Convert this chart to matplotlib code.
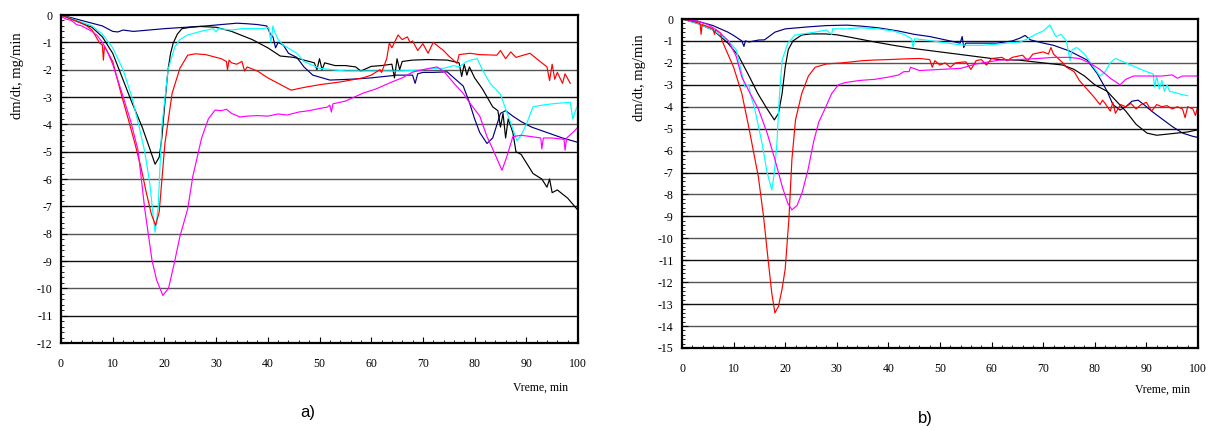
import numpy as np
import matplotlib.pyplot as plt
from matplotlib.ticker import MultipleLocator

# ---- panel a) : (time [min], dm/dt [mg/min]) ----
a_navy = [(0, 0), (2, -0.1), (4, -0.2), (6, -0.3), (8, -0.4), (9, -0.5), (10, -0.6), (11, -0.62),
          (12, -0.55), (14, -0.6), (17, -0.55), (20, -0.5), (24, -0.45), (28, -0.4), (31, -0.35),
          (34, -0.3), (36, -0.32), (38, -0.35), (39.8, -0.4), (40.5, -0.7), (41, -0.8), (41.5, -1.2),
          (42, -1.0), (43, -1.1), (44, -1.4), (45.6, -1.55), (47, -1.9), (48.7, -2.2), (52, -2.38),
          (56, -2.35), (60, -2.3), (65, -2.2), (68, -2.2), (68.5, -2.5), (69, -2.15), (70, -2.1),
          (72, -2.1), (74.7, -2.08), (76, -2.3), (77.8, -2.6), (79, -3.2), (80, -3.8), (81, -4.3),
          (82.4, -4.7), (83.5, -4.5), (84.5, -3.9), (85, -3.6), (86, -3.5), (87.4, -3.7), (89, -3.9),
          (91, -4.1), (94, -4.3), (97, -4.5), (99.8, -4.65)]

a_black = [(0, 0), (2, -0.15), (4, -0.3), (6, -0.45), (8, -0.8), (10, -1.4), (11.8, -2.27),
           (13.5, -3.1), (15.7, -4.1), (17, -4.8), (18.2, -5.46), (19, -5.2), (19.5, -4.5),
           (20.1, -3.2), (20.7, -2.0), (21.2, -1.4), (21.7, -1.03), (22.5, -0.7), (23.4, -0.5),
           (25, -0.45), (27, -0.42), (30, -0.45), (33, -0.6), (37, -0.9), (40, -1.2), (42.4, -1.5),
           (45, -1.55), (47, -1.65), (49, -1.75), (49.5, -2.0), (50, -1.6), (50.5, -2.0), (51, -1.75),
           (53, -1.85), (55, -1.85), (57, -1.9), (58, -2.05), (60, -1.88), (62, -1.85), (64, -1.8),
           (64.5, -2.3), (65, -1.6), (65.5, -2.0), (66, -1.7), (68, -1.65), (71, -1.63), (74.7, -1.65),
           (77, -1.75), (77.5, -2.25), (78, -1.8), (78.5, -2.2), (79, -1.9), (80, -2.3), (81.5, -2.7),
           (83.5, -3.36), (84.5, -3.5), (85, -4.1), (85.5, -3.6), (86, -4.5), (86.5, -3.8),
           (87.4, -4.3), (88, -5.0), (89, -5.1), (91.3, -5.8), (93, -6.0), (94, -6.3), (94.5, -6.0),
           (95, -6.5), (96, -6.4), (98, -6.7), (99.8, -7.1)]

a_cyan = [(0, 0), (3, -0.2), (6, -0.4), (8, -0.7), (10, -1.2), (12, -2.0), (13.7, -3.0), (15, -4.0),
          (16.2, -5.0), (17.2, -6.2), (17.8, -7.3), (18.2, -7.95), (18.8, -7.0), (19.5, -4.1),
          (20.7, -2.0), (22, -1.17), (23, -0.9), (24.5, -0.73), (27, -0.6), (29.5, -0.5), (30, -0.62),
          (30.5, -0.5), (33, -0.55), (35, -0.5), (37, -0.5), (39, -0.5), (40.2, -0.45), (40.6, -1.0),
          (41, -0.4), (41.3, -0.6), (42, -0.9), (43, -1.1), (45.6, -1.4), (47, -1.7), (50, -1.95),
          (55, -2.05), (60, -2.05), (65, -2.05), (68, -2.03), (70, -2.0), (72, -1.95), (74, -1.95),
          (76, -1.85), (77, -1.9), (78.5, -1.7), (79.3, -1.65), (80.5, -1.6), (81.5, -2.0), (83, -2.5),
          (85, -2.9), (86.5, -3.7), (88.2, -4.6), (89, -4.4), (90, -4.0), (91.3, -3.36), (93, -3.3),
          (95, -3.25), (97.9, -3.2), (98.5, -3.2), (99, -3.8), (99.5, -3.5), (100, -3.3)]

a_red = [(0, 0), (2, -0.15), (4, -0.3), (5, -0.4), (6, -0.55), (7.5, -1.03), (8, -1.1), (8.2, -1.65),
         (8.4, -1.15), (10, -1.7), (11.8, -3.0), (13, -3.8), (14.3, -4.7), (15.5, -5.6), (16.5, -6.5),
         (17.5, -7.3), (18.3, -7.7), (19, -7.2), (20.1, -4.7), (21.5, -2.86), (23, -1.95),
         (24.5, -1.47), (26, -1.42), (28, -1.45), (30, -1.55), (31, -1.6), (32, -1.7), (32.2, -2.0),
         (32.5, -1.65), (33, -1.75), (34, -1.8), (35, -1.7), (35.5, -2.05), (36, -1.9), (38, -2.05),
         (40, -2.3), (43, -2.6), (44.5, -2.75), (47, -2.65), (50, -2.55), (54, -2.45), (58.4, -2.3),
         (60, -2.2), (61.7, -2.0), (62, -2.1), (63, -1.6), (63.5, -1.03), (64, -1.2), (65.2, -0.73),
         (66, -0.9), (67, -0.8), (67.5, -1.0), (68, -0.95), (69, -1.3), (70, -1.05), (71, -1.4),
         (72, -1.0), (73.3, -1.2), (74, -1.3), (75, -1.5), (76.6, -1.77), (77, -1.45), (79.1, -1.4),
         (81, -1.45), (84.3, -1.47), (85, -1.3), (86, -1.6), (87, -1.35), (88, -1.55), (90.7, -1.4),
         (92, -1.6), (94, -1.9), (94.5, -2.4), (95, -1.8), (95.5, -2.35), (96, -2.1), (97, -2.5),
         (97.5, -2.15), (98.5, -2.5)]

a_magenta = [(0, -0.05), (1, -0.15), (2, -0.2), (3, -0.35), (4, -0.4), (5, -0.5), (6, -0.6),
             (7, -0.75), (8, -1.0), (9, -1.35), (10, -1.8), (11.8, -2.86), (13.5, -3.9), (14.9, -4.95),
             (16.2, -7.1), (17.6, -8.97), (18.5, -9.7), (19.7, -10.26), (20.8, -10.0), (22, -9.0),
             (23, -8.1), (24.5, -7.1), (25.5, -5.9), (27.2, -4.5), (28.5, -3.8), (29.8, -3.48),
             (31, -3.5), (32, -3.45), (33, -3.6), (34.6, -3.73), (36, -3.7), (38, -3.68), (40, -3.7),
             (42, -3.62), (43.7, -3.66), (46, -3.55), (48, -3.5), (50, -3.42), (51.5, -3.37),
             (52, -3.3), (52.3, -3.55), (52.6, -3.25), (55, -3.15), (58.4, -2.86), (61, -2.7),
             (64, -2.45), (66, -2.3), (68, -2.09), (70, -2.0), (72.7, -1.9), (74, -2.05), (76, -2.5),
             (77.8, -2.87), (79, -3.2), (81, -3.7), (82.4, -4.45), (83.5, -4.9), (85.3, -5.68),
             (86.2, -5.2), (87.4, -4.45), (89, -4.4), (91, -4.45), (92.8, -4.5), (93, -4.9),
             (93.3, -4.5), (95, -4.5), (97.3, -4.55), (97.5, -4.95), (97.8, -4.5), (99, -4.3),
             (100, -4.1)]

# ---- panel b) ----
b_navy = [(0, 0), (3, -0.1), (6, -0.3), (8.9, -0.6), (10, -0.75), (11.6, -1.0), (12, -1.25),
          (12.3, -1.0), (13, -1.05), (14.8, -0.96), (16, -0.95), (18, -0.6), (20, -0.45),
          (24.4, -0.36), (28, -0.3), (32, -0.28), (34.5, -0.32), (38, -0.4), (42, -0.55), (45, -0.7),
          (48, -0.8), (50, -0.9), (53.9, -1.1), (54.3, -0.8), (54.6, -1.3), (55, -1.1), (58, -1.1),
          (61, -1.1), (64, -1.0), (65.5, -0.87), (66.5, -0.75), (67.5, -0.95), (70, -1.1), (72, -1.2),
          (75, -1.45), (78.5, -1.87), (80.5, -2.5), (82.4, -3.3), (83.5, -3.9), (84.9, -4.15),
          (86, -4.0), (87.2, -3.75), (88.4, -3.7), (89.5, -3.9), (91, -4.2), (93, -4.55), (95, -4.9),
          (97, -5.2), (99, -5.35), (100, -5.4)]

b_black = [(0, 0), (3, -0.2), (6, -0.5), (8.9, -1.1), (11, -1.7), (13, -2.6), (14.7, -3.4),
           (16.5, -4.1), (17.9, -4.6), (18.7, -4.3), (19.4, -3.4), (20, -2.2), (20.6, -1.4),
           (21.5, -1.0), (23.2, -0.73), (25, -0.68), (27.7, -0.68), (30, -0.72), (33, -0.85),
           (37.4, -1.05), (41, -1.2), (45, -1.35), (50, -1.5), (55, -1.65), (61.6, -1.85),
           (65.5, -1.88), (70, -2.0), (73.8, -2.1), (76, -2.3), (78, -2.6), (80, -3.0), (82.4, -3.3),
           (84, -3.7), (86, -4.2), (88, -4.8), (90.1, -5.2), (91, -5.25), (92, -5.3), (94, -5.25),
           (96, -5.2), (98, -5.15), (100, -5.05)]

b_cyan = [(0, 0), (3, -0.2), (6, -0.5), (9, -1.0), (10.5, -1.4), (12.2, -3.1), (13, -3.0),
          (13.2, -3.4), (14, -4.0), (15.5, -5.65), (16.5, -7.0), (17.4, -7.8), (17.9, -7.0),
          (18.4, -5.65), (18.8, -3.8), (19.4, -1.87), (20.5, -1.1), (21.9, -0.73), (25.8, -0.6),
          (28, -0.5), (29, -0.7), (29.2, -0.45), (32, -0.45), (34.5, -0.4), (38, -0.45), (41, -0.55),
          (43, -0.7), (44.5, -0.9), (44.8, -1.3), (45.1, -0.9), (47, -0.95), (50, -1.05), (53, -1.15),
          (55, -1.2), (58, -1.2), (61, -1.15), (63, -1.1), (65.5, -1.05), (67, -0.9), (68.5, -0.7),
          (70, -0.55), (71.3, -0.27), (72, -0.6), (72.5, -0.8), (73.5, -0.7), (74.5, -1.0),
          (75.2, -1.9), (75.6, -1.4), (76.5, -1.3), (78, -1.6), (79.5, -2.1), (81, -2.6), (82, -2.4),
          (83, -2.0), (84, -1.8), (86, -2.0), (88, -2.2), (90, -2.4), (91.3, -2.5), (91.6, -3.1),
          (92, -2.6), (92.5, -3.2), (93, -2.8), (93.5, -3.3), (94, -3.0), (94.5, -3.3),
          (95.5, -3.35), (97, -3.45), (98, -3.5)]

b_red = [(0, 0), (2, -0.1), (3.5, -0.2), (3.7, -0.7), (3.9, -0.25), (5, -0.35), (6, -0.45),
         (6.3, -0.7), (6.5, -0.5), (7.5, -0.65), (7.7, -0.95), (8.3, -1.28), (10, -2.2),
         (11.6, -3.4), (13, -5.0), (14.8, -7.2), (15.8, -9.0), (16.7, -11.0), (17.4, -12.5),
         (18, -13.4), (18.7, -13.1), (19.4, -12.3), (20, -11.4), (20.5, -9.8), (20.7, -9.2),
         (21.3, -6.4), (22, -4.6), (23.2, -3.4), (24.5, -2.6), (25.8, -2.2), (28, -2.05), (31, -2.0),
         (35, -1.9), (37.4, -1.87), (40, -1.85), (43, -1.82), (46, -1.8), (48, -1.85), (48.5, -2.2),
         (49, -1.9), (50, -2.1), (51, -2.0), (52, -2.2), (53, -2.0), (55, -1.95), (56, -2.3),
         (57, -1.9), (58, -1.85), (59, -2.1), (60, -1.8), (62, -1.75), (63, -1.9), (64, -1.75),
         (66, -1.65), (67, -1.9), (68, -1.6), (69, -1.55), (70, -1.5), (71, -1.6), (71.5, -1.3),
         (72, -1.6), (73.8, -2.0), (74.5, -2.2), (76, -2.4), (77, -2.8), (78.5, -3.2), (80, -3.6),
         (81, -3.9), (81.5, -3.7), (82, -3.85), (83, -4.2), (83.5, -3.8), (84, -4.3), (85, -3.9),
         (86, -4.0), (87, -3.85), (88, -4.1), (89, -3.9), (90, -3.8), (91, -4.2), (92, -3.9),
         (93, -4.0), (94, -3.95), (95, -4.1), (96, -4.0), (97, -4.1), (97.5, -4.5), (98, -4.0),
         (99, -4.1), (99.5, -4.4), (100, -3.95)]

b_magenta = [(0, 0), (3, -0.1), (5, -0.25), (7, -0.55), (9, -1.0), (10.5, -1.7), (11.6, -2.65),
             (13, -3.3), (14.8, -4.1), (16.5, -5.2), (18, -6.4), (19.5, -7.7), (20.5, -8.4),
             (21.3, -8.7), (22.3, -8.5), (23.3, -7.9), (24.4, -6.9), (25.5, -5.6), (26.5, -4.7),
             (27.7, -4.1), (29, -3.4), (30.3, -3.0), (31.6, -2.9), (34.5, -2.8), (37.4, -2.75),
             (40, -2.65), (42, -2.55), (43, -2.4), (44, -2.4), (44.3, -2.2), (46, -2.35), (50, -2.3),
             (54, -2.25), (57, -2.05), (61.6, -1.87), (65, -1.85), (69, -1.8), (72, -1.75),
             (75, -1.75), (77, -1.8), (79, -2.0), (81, -2.3), (83, -2.7), (84.9, -3.0), (86, -2.75),
             (87.5, -2.6), (90, -2.6), (93, -2.6), (95, -2.55), (96, -2.7), (97, -2.6), (100, -2.6)]

colors = {'navy': '#000080', 'black': '#000000', 'cyan': '#00FFFF',
          'red': '#FF0000', 'magenta': '#FF00FF'}

plt.rcParams['font.family'] = ['Liberation Serif', 'DejaVu Serif']

fig = plt.figure(figsize=(12.08, 4.30), dpi=100)
ax_a = fig.add_axes([61 / 1208, 1 - 343 / 430, 517 / 1208, 328 / 430])
ax_b = fig.add_axes([682 / 1208, 1 - 348 / 430, 516 / 1208, 329 / 430])

panels = [
    (ax_a, -12, [a_navy, a_black, a_cyan, a_red, a_magenta]),
    (ax_b, -15, [b_navy, b_black, b_cyan, b_red, b_magenta]),
]
names = ['navy', 'black', 'cyan', 'red', 'magenta']

for ax, ymin, series in panels:
    for k in range(-1, ymin, -1):
        # grid lines come out alternately black and grey in the scan
        ax.axhline(k, color='#111111' if k % 2 else '#555555', lw=1.0, zorder=1)
    for name, pts in zip(names, series):
        xy = np.array(pts)
        ax.plot(xy[:, 0], xy[:, 1], color=colors[name], lw=0.85, zorder=2)
    ax.set_xlim(0, 100)
    ax.set_ylim(ymin, 0)
    ax.xaxis.set_major_locator(MultipleLocator(10))
    ax.xaxis.set_minor_locator(MultipleLocator(2))
    ax.yaxis.set_major_locator(MultipleLocator(1))
    ax.yaxis.set_minor_locator(MultipleLocator(0.2))
    ax.tick_params(axis='both', which='both', direction='in', labelsize=8.5, top=False, right=False)
    ax.tick_params(axis='x', which='major', length=4, pad=11)
    ax.tick_params(axis='x', which='minor', length=2.5)
    ax.tick_params(axis='y', which='major', length=4, pad=6)
    ax.tick_params(axis='y', which='minor', length=2.5)
    ax.set_yticks(range(ymin, 1))
    ax.set_yticklabels([str(v) for v in range(ymin, 1)])
    for s in ax.spines.values():
        s.set_linewidth(1.6)

fig.text(18 / 1208, 1 - 76 / 430, 'dm/dt, mg/min', rotation=90, ha='center', va='center', fontsize=10.5)
fig.text(640 / 1208, 1 - 78 / 430, 'dm/dt, mg/min', rotation=90, ha='center', va='center', fontsize=10.5)
fig.text(568 / 1208, 1 - 388 / 430, 'Vreme, min', ha='right', va='center', fontsize=8.5)
fig.text(1190 / 1208, 1 - 390 / 430, 'Vreme, min', ha='right', va='center', fontsize=8.5)
fig.text(308 / 1208, 1 - 412 / 430, 'a)', ha='center', va='center', fontsize=12, family='Liberation Sans')
fig.text(925 / 1208, 1 - 418 / 430, 'b)', ha='center', va='center', fontsize=12, family='Liberation Sans')

fig.savefig('out.png', dpi=100)
